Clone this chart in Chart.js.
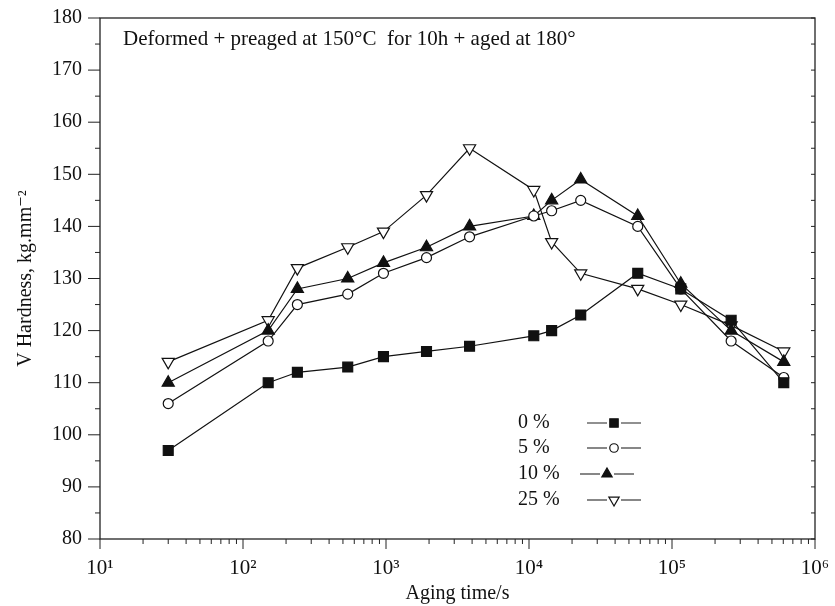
<!DOCTYPE html>
<html>
<head>
<meta charset="utf-8">
<script src="https://cdn.jsdelivr.net/npm/chart.js@4"></script>
<style>
  html, body { margin: 0; padding: 0; background: #fff; }
  #wrap { width: 835px; height: 606px; }
</style>
</head>
<body>
<div id="wrap"><canvas id="mychart" width="835" height="606"></canvas></div>
<script>
// aging times (s)
var agingTimes = [30, 150, 240, 540, 960, 1920, 3840, 10800, 14400, 23000, 57600, 115200, 259200, 604800];

var hard0 = [97, 110, 112, 113, 115, 116, 117, 119, 120, 123, 131, 128, 122, 110];
var hard5 = [106, 118, 125, 127, 131, 134, 138, 142, 143, 145, 140, 128, 118, 111];
var hard10 = [110, 120, 128, 130, 133, 136, 140, 142, 145, 149, 142, 129, 120, 114];
var hard25 = [114, 122, 132, 136, 139, 146, 155, 147, 137, 131, 128, 125, 121, 116];

var seriesNames = ['0 %', '5 %', '10 %', '25 %'];
var xTickLabels = {10: '10¹', 100: '10²', 1000: '10³', 10000: '10⁴', 100000: '10⁵', 1000000: '10⁶'};
var noteText = 'Deformed + preaged at 150°C  for 10h + aged at 180°';

var serif = '"Liberation Serif", "DejaVu Serif", serif';

function pts(ys) {
    var out = [];
    for (var i = 0; i < agingTimes.length; i++) {
        out.push({x: agingTimes[i], y: ys[i]});
    }
    return out;
}

function makeSet(label, ys, style, fill, radius, rot) {
    return {
        label: label,
        data: pts(ys),
        borderColor: '#111',
        borderWidth: 1.2,
        pointStyle: style,
        pointRotation: rot || 0,
        pointRadius: radius,
        pointHoverRadius: radius,
        pointBackgroundColor: fill,
        pointBorderColor: '#111',
        pointBorderWidth: 1.2,
        tension: 0
    };
}

// no extra room for label overflow, the layout padding decides
function noOverflow(scale) {
    scale.paddingLeft = 0;
    scale.paddingRight = 0;
    scale.paddingTop = 0;
    scale.paddingBottom = 0;
}

// tick marks, frame, legend and note
var decor = {
    id: 'decor',
    afterDraw: function (chart) {
        var ctx = chart.ctx;
        var xs = chart.scales.x, ys = chart.scales.y;
        var a = chart.chartArea;
        ctx.save();
        ctx.strokeStyle = '#222';
        ctx.lineWidth = 1.3;
        ctx.strokeRect(a.left, a.top, a.right - a.left, a.bottom - a.top);

        ctx.lineWidth = 1;
        ctx.beginPath();
        // y ticks every 5
        for (var v = 80; v <= 180; v += 5) {
            var py = ys.getPixelForValue(v);
            var len = (v % 10 === 0) ? 12 : 5;
            ctx.moveTo(a.left - len, py); ctx.lineTo(a.left, py);
            ctx.moveTo(a.right, py); ctx.lineTo(a.right - 4, py);
        }
        // x log ticks
        for (var d = 10; d <= 1000000; d *= 10) {
            for (var m = 1; m <= 9; m++) {
                var val = d * m;
                if (val > 1000000) break;
                var px = xs.getPixelForValue(val);
                var l2 = (m === 1) ? 10 : 5;
                ctx.moveTo(px, a.bottom); ctx.lineTo(px, a.bottom + l2);
            }
        }
        ctx.stroke();

        // note
        ctx.fillStyle = '#111';
        ctx.font = '21px ' + serif;
        ctx.textBaseline = 'alphabetic';
        ctx.textAlign = 'left';
        ctx.fillText(noteText, a.left + 23, a.top + 27);

        // legend
        var lx = 518, rowY = [423, 448, 474, 500];
        var symX = [614, 614, 607, 614];
        ctx.font = '20px ' + serif;
        ctx.textBaseline = 'middle';
        chart.data.datasets.forEach(function (ds, i) {
            var y = rowY[i];
            ctx.fillText(ds.label, lx, y);
            ctx.beginPath();
            ctx.moveTo(symX[i] - 27, y); ctx.lineTo(symX[i] - 7, y);
            ctx.moveTo(symX[i] + 7, y); ctx.lineTo(symX[i] + 27, y);
            ctx.lineWidth = 1.2;
            ctx.stroke();
            ctx.fillStyle = ds.pointBackgroundColor;
            ctx.strokeStyle = '#111';
            Chart.helpers.drawPoint(ctx, {
                pointStyle: ds.pointStyle,
                rotation: ds.pointRotation,
                radius: ds.pointRadius * 0.85,
                borderWidth: 1.2
            }, symX[i], y);
            ctx.fillStyle = '#111';
        });
        ctx.restore();
    }
};

const ctr = document.getElementById('mychart');

new Chart(ctr, {
    type: 'line',
    data: {
        datasets: [
            makeSet(seriesNames[0], hard0, 'rect', '#111', 7),
            makeSet(seriesNames[1], hard5, 'circle', '#fff', 5),
            makeSet(seriesNames[2], hard10, 'triangle', '#111', 7),
            makeSet(seriesNames[3], hard25, 'triangle', '#fff', 7, 180)
        ]
    },
    options: {
        responsive: false,
        animation: false,
        layout: { padding: { top: 18, right: 20, left: 0, bottom: 0 } },
        plugins: {
            legend: { display: false },
            tooltip: { enabled: false }
        },
        scales: {
            x: {
                type: 'logarithmic',
                min: 10,
                max: 1000000,
                border: { display: false },
                grid: { display: false, drawTicks: false },
                ticks: {
                    color: '#111',
                    font: { family: serif, size: 21 },
                    padding: 17,
                    autoSkip: false,
                    maxRotation: 0,
                    callback: function (value) {
                        return xTickLabels[value] || '';
                    }
                },
                title: {
                    display: true,
                    text: 'Aging time/s',
                    color: '#111',
                    font: { family: serif, size: 20 },
                    padding: { top: 0, bottom: 0 }
                },
                afterFit: function (scale) {
                    scale.height = 67;
                    noOverflow(scale);
                }
            },
            y: {
                min: 80,
                max: 180,
                border: { display: false },
                grid: { display: false, drawTicks: false },
                ticks: {
                    stepSize: 10,
                    color: '#111',
                    font: { family: serif, size: 20 },
                    padding: 18
                },
                title: {
                    display: true,
                    text: 'V Hardness, kg.mm⁻²',
                    color: '#111',
                    font: { family: serif, size: 20 },
                    padding: { top: 14, bottom: 0 }
                },
                afterFit: function (scale) {
                    scale.width = 100;
                    noOverflow(scale);
                }
            }
        }
    },
    plugins: [decor]
});
</script>
</body>
</html>
